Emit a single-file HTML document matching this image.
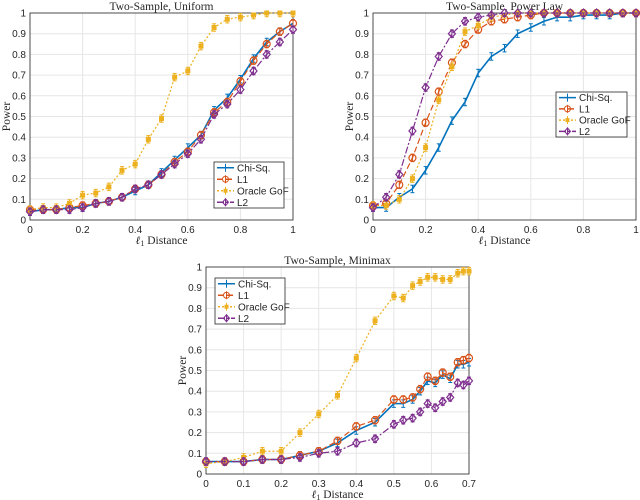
<!DOCTYPE html>
<html><head><meta charset="utf-8"><style>
body{margin:0;background:#fff}
svg{display:block}
text{font-family:"Liberation Sans",sans-serif;font-size:10px;fill:#262626}
.serif{font-family:"Liberation Serif",serif;font-size:11.5px}
</style></head><body>
<svg id="s" width="640" height="500" viewBox="0 0 640 500"></svg>
<script>
const xU=[0,.05,.1,.15,.2,.25,.3,.35,.4,.45,.5,.55,.6,.65,.7,.75,.8,.85,.9,.95,1];
const uChi=[.04,.05,.05,.06,.06,.08,.09,.11,.14,.17,.23,.29,.35,.41,.53,.59,.68,.78,.86,.91,.95];
const uL1=[.05,.05,.05,.06,.07,.08,.09,.11,.15,.17,.22,.28,.33,.41,.52,.57,.67,.77,.85,.91,.95];
const uOr=[.05,.06,.06,.08,.12,.13,.16,.24,.27,.39,.49,.69,.72,.84,.93,.97,.98,.99,1,1,1];
const uL2=[.04,.05,.05,.05,.06,.08,.09,.11,.15,.17,.22,.27,.32,.39,.51,.56,.63,.72,.80,.86,.92];
const pChi=[.06,.06,.11,.15,.24,.35,.48,.57,.71,.79,.83,.90,.93,.96,.98,.98,.99,.99,.99,1,1];
const pL1=[.07,.08,.17,.30,.47,.62,.76,.85,.92,.96,.97,.98,.99,1,1,1,1,1,1,1,1];
const pOr=[.07,.07,.10,.20,.35,.58,.74,.91,.94,.98,.99,1,1,1,1,1,1,1,1,1,1];
const pL2=[.06,.11,.22,.43,.64,.79,.90,.96,.98,.99,1,1,1,1,1,1,1,1,1,1,1];
const xM=[0,.05,.1,.15,.2,.25,.3,.35,.4,.45,.5,.525,.55,.57,.59,.61,.63,.65,.67,.685,.7];
const mChi=[.06,.06,.06,.07,.07,.09,.11,.15,.21,.25,.34,.34,.36,.40,.45,.44,.48,.46,.53,.53,.54];
const mL1=[.06,.06,.06,.07,.07,.09,.11,.16,.23,.26,.36,.36,.37,.41,.47,.45,.49,.47,.54,.55,.56];
const mOr=[.05,.06,.08,.11,.11,.20,.29,.38,.56,.74,.86,.85,.91,.93,.95,.95,.94,.94,.97,.98,.98];
const mL2=[.06,.06,.06,.07,.07,.08,.10,.11,.15,.17,.24,.26,.27,.30,.34,.32,.35,.37,.44,.43,.45];
const yTicks=[0,.1,.2,.3,.4,.5,.6,.7,.8,.9,1];
const xTicks1=[0,.2,.4,.6,.8,1];
const xTicks3=[0,.1,.2,.3,.4,.5,.6,.7];
const names=['Chi-Sq.','L1','Oracle GoF','L2'];
const cols=['#0072BD','#D95319','#EDB120','#7E2F8E'];
const dash=['',  '6,3','2,2','7,2,2,2'];
const NS='http://www.w3.org/2000/svg';
const S=document.getElementById('s');
function el(t,a,p){const e=document.createElementNS(NS,t);for(const k in a)e.setAttribute(k,a[k]);(p||S).appendChild(e);return e;}
function chart(c){
 const g=el('g',{});
 
 
 const X=v=>c.x0+(v-c.xmin)/(c.xmax-c.xmin)*(c.x1-c.x0);
 const Y=v=>c.y0-v*(c.y0-c.y1);
 el('rect',{x:c.x0,y:c.y1,width:c.x1-c.x0,height:c.y0-c.y1,fill:'#fff'},g);
 yTicks.forEach(t=>{el('line',{x1:c.x0,x2:c.x1,y1:Y(t),y2:Y(t),stroke:'#e6e6e6','stroke-width':1},g);
  const tx=el('text',{x:c.x0-4,y:Y(t)+3.5,'text-anchor':'end'},g);tx.textContent=String(t);
  });
 c.xt.forEach(t=>{el('line',{x1:X(t),x2:X(t),y1:c.y0,y2:c.y1,stroke:'#e6e6e6','stroke-width':1},g);
  const tx=el('text',{x:X(t),y:c.y0+13,'text-anchor':'middle'},g);tx.textContent=String(t);
  });
 el('rect',{x:c.x0,y:c.y1,width:c.x1-c.x0,height:c.y0-c.y1,fill:'none',stroke:'#262626','stroke-width':0.8},g);
 const tt=el('text',{x:(c.x0+c.x1)/2,y:c.y1-3,'text-anchor':'middle',class:'serif'},g);tt.textContent=c.title;
 
 const xl=el('text',{x:(c.x0+c.x1)/2,y:c.y0+24,'text-anchor':'middle',class:'serif'},g);xl.innerHTML='<tspan font-style="italic">ℓ</tspan><tspan font-size="8" dy="2">1</tspan><tspan dy="-2"> Distance</tspan>';
 
 const yl=el('text',{x:0,y:0,'text-anchor':'middle',class:'serif',transform:`translate(${c.x0-20},${(c.y0+c.y1)/2}) rotate(-90)`},g);yl.textContent='Power';
 
 c.series.forEach((ys,i)=>{
  const sg=el('g',{},g);
  
  
  const pts=ys.map((v,j)=>X(c.xs[j])+','+Y(v)).join(' ');
  el('polyline',{points:pts,fill:'none',stroke:cols[i],'stroke-width':i==0?1.6:1.2,'stroke-dasharray':dash[i]},sg);
  ys.forEach((v,j)=>{const x=X(c.xs[j]);
   el('line',{x1:x,x2:x,y1:Y(Math.min(1,v+.018)),y2:Y(v-.018),stroke:cols[i],'stroke-width':1},sg);
   el('line',{x1:x-2,x2:x+2,y1:Y(Math.min(1,v+.018)),y2:Y(Math.min(1,v+.018)),stroke:cols[i],'stroke-width':1},sg);
   el('line',{x1:x-2,x2:x+2,y1:Y(v-.018),y2:Y(v-.018),stroke:cols[i],'stroke-width':1},sg);
   const y=Y(v);
   if(i==1)el('circle',{cx:x,cy:y,r:3.5,fill:'none',stroke:cols[i],'stroke-width':1.2},sg);
   if(i==2)el('rect',{x:x-2.5,y:y-2.5,width:5,height:5,fill:cols[i]},sg);
   if(i==3)el('path',{d:`M${x},${y-4}L${x+3.5},${y}L${x},${y+4}L${x-3.5},${y}Z`,fill:'none',stroke:cols[i],'stroke-width':1.2},sg);
  });
 });
 const L=c.leg, lg=el('g',{},g);
 
 el('rect',{x:L[0],y:L[1],width:L[2]-L[0],height:L[3]-L[1],fill:'#fff',stroke:'#262626','stroke-width':0.8},lg);
 const h=(L[3]-L[1])/4;
 names.forEach((n,i)=>{const y=L[1]+h*(i+.5);
  el('line',{x1:L[0]+3,x2:L[0]+20,y1:y,y2:y,stroke:cols[i],'stroke-width':1.4,'stroke-dasharray':dash[i]},lg);
  el('line',{x1:L[0]+11.5,x2:L[0]+11.5,y1:y-4,y2:y+4,stroke:cols[i]},lg);
  if(i==1)el('circle',{cx:L[0]+11.5,cy:y,r:3,fill:'none',stroke:cols[i]},lg);
  if(i==2)el('rect',{x:L[0]+9.5,y:y-2,width:4,height:4,fill:cols[i]},lg);
  if(i==3)el('path',{d:`M${L[0]+11.5},${y-3.5}l3,3.5l-3,3.5l-3,-3.5z`,fill:'none',stroke:cols[i]},lg);
  const t=el('text',{x:L[0]+23,y:y+3.5},lg);t.textContent=n;
  });
}
chart({id:'chart-uniform',title:'Two-Sample, Uniform',x0:30,x1:293,y0:220,y1:13,xmin:0,xmax:1,xt:xTicks1,xs:xU,series:[uChi,uL1,uOr,uL2],leg:[214,162,284,208]});
chart({id:'chart-power-law',title:'Two-Sample, Power Law',x0:373,x1:636,y0:220,y1:13,xmin:0,xmax:1,xt:xTicks1,xs:xU,series:[pChi,pL1,pOr,pL2],leg:[556,92,627,137]});
chart({id:'chart-minimax',title:'Two-Sample, Minimax',x0:206,x1:469,y0:474,y1:267,xmin:0,xmax:.7,xt:xTicks3,xs:xM,series:[mChi,mL1,mOr,mL2],leg:[215,278,285,324]});
</script>
</body></html>
